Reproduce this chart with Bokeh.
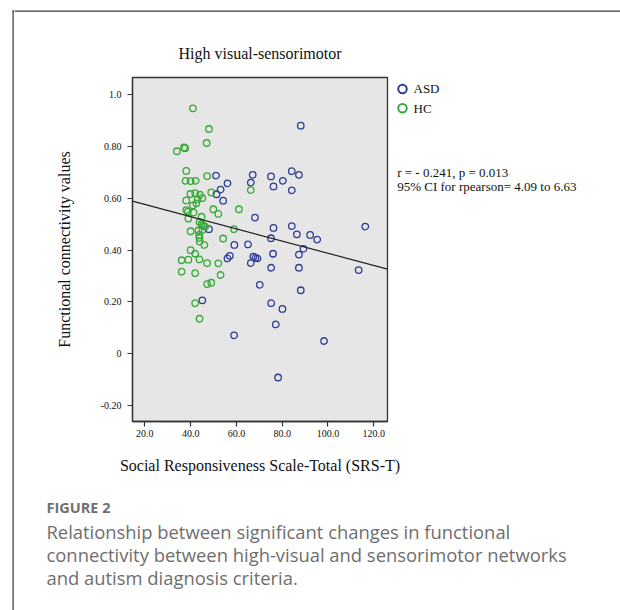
from bokeh.plotting import figure
from bokeh.layouts import column, row
from bokeh.models import Range1d, FixedTicker, ColumnDataSource
from bokeh.core.properties import value
from bokeh.embed import file_html
from bokeh.resources import INLINE

# ---------------- data ----------------
title_text = "High visual-sensorimotor"
x_label = "Social Responsiveness Scale-Total (SRS-T)"
y_label = "Functional connectivity values"

x_ticks = [20, 40, 60, 80, 100, 120]
x_tick_labels = ["20.0", "40.0", "60.0", "80.0", "100.0", "120.0"]
y_ticks = [-0.2, 0.0, 0.2, 0.4, 0.6, 0.8, 1.0]
y_tick_labels = ["-0.20", "0", "0.20", "0.40", "0.60", "0.80", "1.0"]

series_names = ["ASD", "HC"]

asd_srs = [88.1, 51.1, 56.1, 53.1, 51.3, 54.2, 67.1, 66.3, 75.1, 76.2,
           80.3, 84.2, 87.3, 84.2, 68.1, 48.0, 76.2, 84.2, 86.4, 92.2,
           95.3, 89.3, 75.1, 59.1, 65.1, 57.1, 56.1, 67.4, 68.3, 69.2,
           66.3, 76.0, 87.3, 75.2, 87.3, 70.2, 88.1, 45.1, 75.2, 80.1,
           77.2, 59.0, 98.3, 78.2, 116.3, 113.4]
asd_fc = [0.881, 0.688, 0.658, 0.634, 0.616, 0.591, 0.691, 0.661, 0.685, 0.646,
          0.668, 0.705, 0.691, 0.631, 0.526, 0.481, 0.486, 0.493, 0.461, 0.459,
          0.441, 0.405, 0.446, 0.420, 0.422, 0.378, 0.368, 0.375, 0.370, 0.368,
          0.350, 0.386, 0.383, 0.332, 0.332, 0.266, 0.245, 0.206, 0.195, 0.173,
          0.113, 0.071, 0.049, -0.092, 0.491, 0.323]

hc_srs = [41.0, 48.0, 47.0, 37.1, 37.6, 34.0, 38.1, 37.8, 40.0, 42.2,
          47.2, 39.9, 42.0, 44.1, 38.1, 43.1, 45.1, 42.5, 41.0, 49.0,
          38.1, 38.8, 41.3, 49.9, 52.1, 61.1, 39.0, 44.8, 43.9, 44.8,
          45.4, 46.3, 40.0, 43.4, 45.1, 59.0, 43.7, 43.9, 54.2, 44.0,
          46.0, 40.0, 42.0, 36.1, 39.0, 43.9, 47.2, 52.1, 36.1, 42.0,
          53.1, 47.2, 49.0, 42.0, 43.9, 66.3]
hc_fc = [0.948, 0.868, 0.814, 0.797, 0.794, 0.782, 0.706, 0.668, 0.667, 0.668,
         0.686, 0.617, 0.620, 0.614, 0.592, 0.597, 0.601, 0.581, 0.573, 0.623,
         0.555, 0.549, 0.545, 0.558, 0.540, 0.558, 0.522, 0.529, 0.509, 0.501,
         0.496, 0.491, 0.473, 0.476, 0.478, 0.481, 0.459, 0.447, 0.445, 0.433,
         0.420, 0.400, 0.386, 0.361, 0.363, 0.364, 0.350, 0.349, 0.317, 0.311,
         0.304, 0.269, 0.274, 0.195, 0.135, 0.632]

fit_intercept = 0.624
fit_slope = -0.00236

stats_lines = ["r = - 0.241, p = 0.013", "95% CI for rpearson= 4.09 to 6.63"]
caption_head = "FIGURE 2"
caption_lines = ["Relationship between significant changes in functional",
                 "connectivity between high-visual and sensorimotor networks",
                 "and autism diagnosis criteria."]

# ---------------- style ----------------
ASD_COLOR = "#2f3c96"
HC_COLOR = "#35a835"
SERIES_COLORS = [ASD_COLOR, HC_COLOR]
SERIF = "Liberation Serif"
SANS = "Open Sans"
CARD = "#3a3a3a"
INK = "#111111"

X_LO, X_HI = 14.6, 126.0
Y_LO, Y_HI = -0.262, 1.067

W, H = 620, 610
L_W = 14                  # left strip (card border), full height
R_W = W - L_W             # everything else
T_H = 75                  # title strip height
B_TOP, B_BOT = 75, 445    # main row page span
P_W = 375                 # main plot figure width
S_W = R_W - P_W
CARD_L, CARD_R = 12.0, 13.2
CARD_TOP, CARD_BOT = 10.0, 11.2


def canvas(width, height, x0, x1, y_top, y_bot):
    """Blank figure whose frame fills it, in page-pixel coordinates."""
    f = figure(width=width, height=height, output_backend="svg",
               toolbar_location=None, tools="",
               x_range=Range1d(x0, x1), y_range=Range1d(y_bot, y_top),
               x_axis_type=None, y_axis_type=None, min_border=0)
    f.outline_line_color = None
    f.background_fill_color = "white"
    f.border_fill_color = "white"
    return f


# ---- full-height left strip: card border ----
L = canvas(L_W, H, 0, L_W, 0, H)
L.quad(left=CARD_L, right=CARD_R, top=CARD_TOP, bottom=H,
       fill_color=CARD, line_color=None)
L.quad(left=CARD_L, right=L_W, top=CARD_TOP, bottom=CARD_BOT,
       fill_color=CARD, line_color=None)

# ---- title strip ----
T = canvas(R_W, T_H, L_W, W, 0, T_H)
T.quad(left=L_W, right=W, top=CARD_TOP, bottom=CARD_BOT,
       fill_color=CARD, line_color=None)
T.text(x=[259.5], y=[53], text=[title_text], text_font=value(SERIF),
       text_font_size=value("16px"), text_color=INK,
       text_align="center", text_baseline="middle")

# ---- main scatter plot ----
P = figure(width=P_W, height=B_BOT - B_TOP, output_backend="svg",
           toolbar_location=None, tools="",
           x_range=Range1d(X_LO, X_HI), y_range=Range1d(Y_LO, Y_HI),
           min_border_left=132 - L_W, min_border_right=2,
           min_border_top=2, min_border_bottom=24)
P.background_fill_color = "#e6e6e6"
P.border_fill_color = "white"
P.outline_line_color = "#333333"
P.outline_line_width = 1.3
P.xgrid.visible = False
P.ygrid.visible = False

for ax in (P.xaxis[0], P.yaxis[0]):
    ax.axis_line_color = "#333333"
    ax.axis_line_width = 1.3
    ax.major_tick_line_color = "#333333"
    ax.major_tick_line_width = 1.2
    ax.major_tick_in = 0
    ax.major_tick_out = 5
    ax.minor_tick_in = 0
    ax.minor_tick_out = 0
    ax.major_label_text_font = SERIF
    ax.major_label_text_font_size = "10px"
    ax.major_label_text_color = INK
    ax.axis_label_text_font = SERIF
    ax.axis_label_text_font_size = "16px"
    ax.axis_label_text_font_style = "normal"
    ax.axis_label_text_color = INK

P.xaxis.ticker = FixedTicker(ticks=x_ticks)
P.xaxis.major_label_overrides = dict(zip(x_ticks, x_tick_labels))
P.xaxis.major_label_standoff = 3

P.yaxis.ticker = FixedTicker(ticks=y_ticks)
P.yaxis.major_label_overrides = dict(zip(y_ticks, y_tick_labels))
P.yaxis.major_label_standoff = 6
P.yaxis.axis_label = y_label
P.yaxis.axis_label_standoff = 25

asd_src = ColumnDataSource(dict(x=asd_srs, y=asd_fc))
hc_src = ColumnDataSource(dict(x=hc_srs, y=hc_fc))
P.scatter("x", "y", source=asd_src, marker="circle", size=6.5,
          fill_color=None, line_color=ASD_COLOR, line_width=1.3)
P.scatter("x", "y", source=hc_src, marker="circle", size=6.5,
          fill_color=None, line_color=HC_COLOR, line_width=1.3)

fit_x = [X_LO, X_HI]
fit_y = [fit_intercept + fit_slope * v for v in fit_x]
P.line(fit_x, fit_y, line_color="#222222", line_width=1.2)

# ---- right strip: legend + statistics ----
S = canvas(S_W, B_BOT - B_TOP, L_W + P_W, W, B_TOP, B_BOT)
leg_y = [87.3 + 20.7 * i for i in range(len(series_names))]
S.scatter(x=[402] * len(series_names), y=leg_y, marker="circle", size=8.5,
          fill_color=None, line_color=SERIES_COLORS, line_width=2)
S.text(x=[413] * len(series_names), y=leg_y, text=series_names,
       text_font=value(SERIF), text_font_size=value("13px"), text_color=INK,
       text_align="left", text_baseline="middle")
S.text(x=[396.7] * len(stats_lines),
       y=[176.7 + 15.3 * i for i in range(len(stats_lines))],
       text=stats_lines, text_font=value(SERIF),
       text_font_size=value("13px"), text_color=INK,
       text_align="left", text_baseline="middle")

# ---- bottom strip: x label + caption ----
C = canvas(R_W, H - B_BOT, L_W, W, B_BOT, H)
C.text(x=[259.5], y=[465], text=[x_label], text_font=value(SERIF),
       text_font_size=value("16px"), text_color=INK,
       text_align="center", text_baseline="middle")
C.text(x=[46], y=[507], text=[caption_head], text_font=value(SANS),
       text_font_size=value("14.5px"), text_font_style="bold",
       text_color="#707070", text_align="left", text_baseline="middle")
C.text(x=[46] * len(caption_lines),
       y=[530.7 + 23.3 * i for i in range(len(caption_lines))],
       text=caption_lines, text_font=value(SANS),
       text_font_size=value("18.4px"), text_color="#6e6e6e",
       text_align="left", text_baseline="middle")

layout = row(L, column(T, row(P, S), C))
open("out.html", "w").write(file_html(layout, INLINE))
